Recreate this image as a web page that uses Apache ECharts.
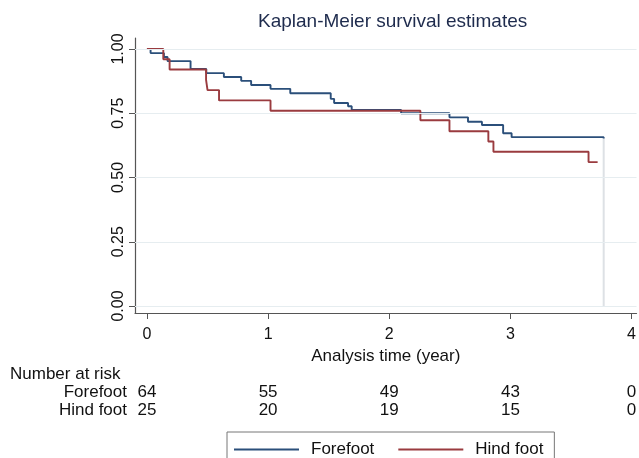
<!DOCTYPE html>
<html>
<head>
<meta charset="utf-8">
<script src="https://cdn.jsdelivr.net/npm/echarts@6/dist/echarts.min.js"></script>
<style>
html,body{margin:0;padding:0;background:#fff;}
#c{width:639px;height:458px;}
</style>
</head>
<body>
<div id="c"></div>
<script>
// ---- data ----
const xTicks = [0, 1, 2, 3, 4];
const yTicks = [0, 0.25, 0.5, 0.75, 1];
const groups = ['Forefoot', 'Hind foot'];
const riskForefoot = [64, 55, 49, 43, 0];
const riskHind = [25, 20, 19, 15, 0];

const forefootTime = [0, 0.03, 0.14, 0.17, 0.36, 0.49, 0.635, 0.778, 0.86, 1.02, 1.183, 1.517, 1.545, 1.66, 1.69, 2.098, 2.497, 2.65, 2.765, 2.94, 3.01, 3.77];
const forefootSurv = [1.0, 0.984, 0.969, 0.953, 0.922, 0.906, 0.891, 0.876, 0.86, 0.845, 0.828, 0.806, 0.790, 0.777, 0.763, 0.750, 0.734, 0.717, 0.704, 0.672, 0.657, 0.652];

const hindTime = [0, 0.135, 0.187, 0.488, 0.5, 0.595, 1.02, 2.257, 2.497, 2.818, 2.86, 3.645, 3.72];
const hindSurv = [1.0, 0.96, 0.92, 0.88, 0.84, 0.80, 0.76, 0.723, 0.68, 0.64, 0.60, 0.56, 0.56];

const lastTime = 3.77;
const dropFrom = 0.652;
const dropTo = 0.0;

// ---- chart ----
const FONT = 'Liberation Sans, Arial, Helvetica, sans-serif';
const chart = echarts.init(document.getElementById('c'), null, {renderer: 'canvas'});

const zip = (a, b) => a.map((v, i) => [v, b[i]]);

const option = {
  animation: false,
  backgroundColor: '#ffffff',
  title: {
    text: 'Kaplan-Meier survival estimates',
    left: 253, top: 7,
    textStyle: {fontFamily: FONT, fontSize: 19, fontWeight: 'normal', color: '#1e2b4d'}
  },
  grid: {left: 135, right: 0, top: 38, bottom: 145, containLabel: false},
  xAxis: {
    type: 'value',
    min: -0.0986, max: 4.0411,
    name: 'Analysis time (year)',
    nameLocation: 'middle',
    nameGap: 34,
    nameTextStyle: {fontFamily: FONT, fontSize: 17, color: '#111'},
    axisLine: {show: true, onZero: false, lineStyle: {color: '#555', width: 1.2}},
    axisTick: {show: true, length: 6, customValues: xTicks, lineStyle: {color: '#555'}},
    axisLabel: {customValues: xTicks, margin: 14, fontFamily: FONT, fontSize: 16, color: '#111',
      formatter: v => String(v)},
    splitLine: {show: false}
  },
  yAxis: {
    type: 'value',
    min: -0.0272, max: 1.0428,
    axisLine: {show: true, onZero: false, lineStyle: {color: '#555', width: 1.2}},
    axisTick: {show: true, length: 6, customValues: yTicks, lineStyle: {color: '#555'}},
    axisLabel: {customValues: yTicks, rotate: 90, margin: 8, fontFamily: FONT, fontSize: 16, color: '#111',
      formatter: v => v.toFixed(2)},
    splitLine: {show: false}
  },
  legend: {
    data: groups,
    left: 227, top: 432,
    orient: 'horizontal',
    itemWidth: 65, itemHeight: 14, itemGap: 23,
    padding: [9, 11, 10, 6],
    borderColor: '#777', borderWidth: 1,
    itemStyle: {opacity: 0},
    textStyle: {fontFamily: FONT, fontSize: 17, color: '#111', padding: [0, 0, 0, 7]}
  },
  series: [
    {
      name: '__grid', type: 'line', data: [], silent: true,
      markLine: {
        silent: true, symbol: 'none', label: {show: false},
        lineStyle: {color: '#e6edf0', width: 1, type: 'solid'},
        data: yTicks.map(v => ({yAxis: v}))
      }
    },
    {
      name: '__drop', type: 'line', silent: true, symbol: 'none',
      data: [[lastTime, dropFrom], [lastTime, dropTo]],
      lineStyle: {color: '#dde1e5', width: 2}, z: 1
    },
    {
      name: groups[0], type: 'line', step: 'end', symbol: 'none',
      data: zip(forefootTime, forefootSurv),
      color: '#2b4f7a',
      lineStyle: {color: '#2b4f7a', width: 1.9}, z: 3
    },
    {
      name: groups[1], type: 'line', step: 'end', symbol: 'none',
      data: zip(hindTime, hindSurv),
      color: '#9a3b3f',
      lineStyle: {color: '#9a3b3f', width: 1.9}, z: 4
    }
  ]
};
chart.setOption(option);

// number-at-risk table, positioned through the x scale
const rowY = [392, 410];
const rows = [riskForefoot, riskHind];
const graphics = [{
  type: 'text', left: 10, top: 366,
  style: {text: 'Number at risk', font: '17px ' + FONT, fill: '#111'}
}];
groups.forEach((g, r) => {
  graphics.push({
    type: 'text', x: 127, y: rowY[r],
    style: {text: g, font: '17px ' + FONT, fill: '#111', align: 'right', verticalAlign: 'middle'}
  });
  rows[r].forEach((n, i) => {
    const px = chart.convertToPixel({xAxisIndex: 0}, xTicks[i]);
    graphics.push({
      type: 'text', x: px, y: rowY[r],
      style: {text: String(n), font: '17px ' + FONT, fill: '#111', align: 'center', verticalAlign: 'middle'}
    });
  });
});
chart.setOption({graphic: graphics});
</script>
</body>
</html>
